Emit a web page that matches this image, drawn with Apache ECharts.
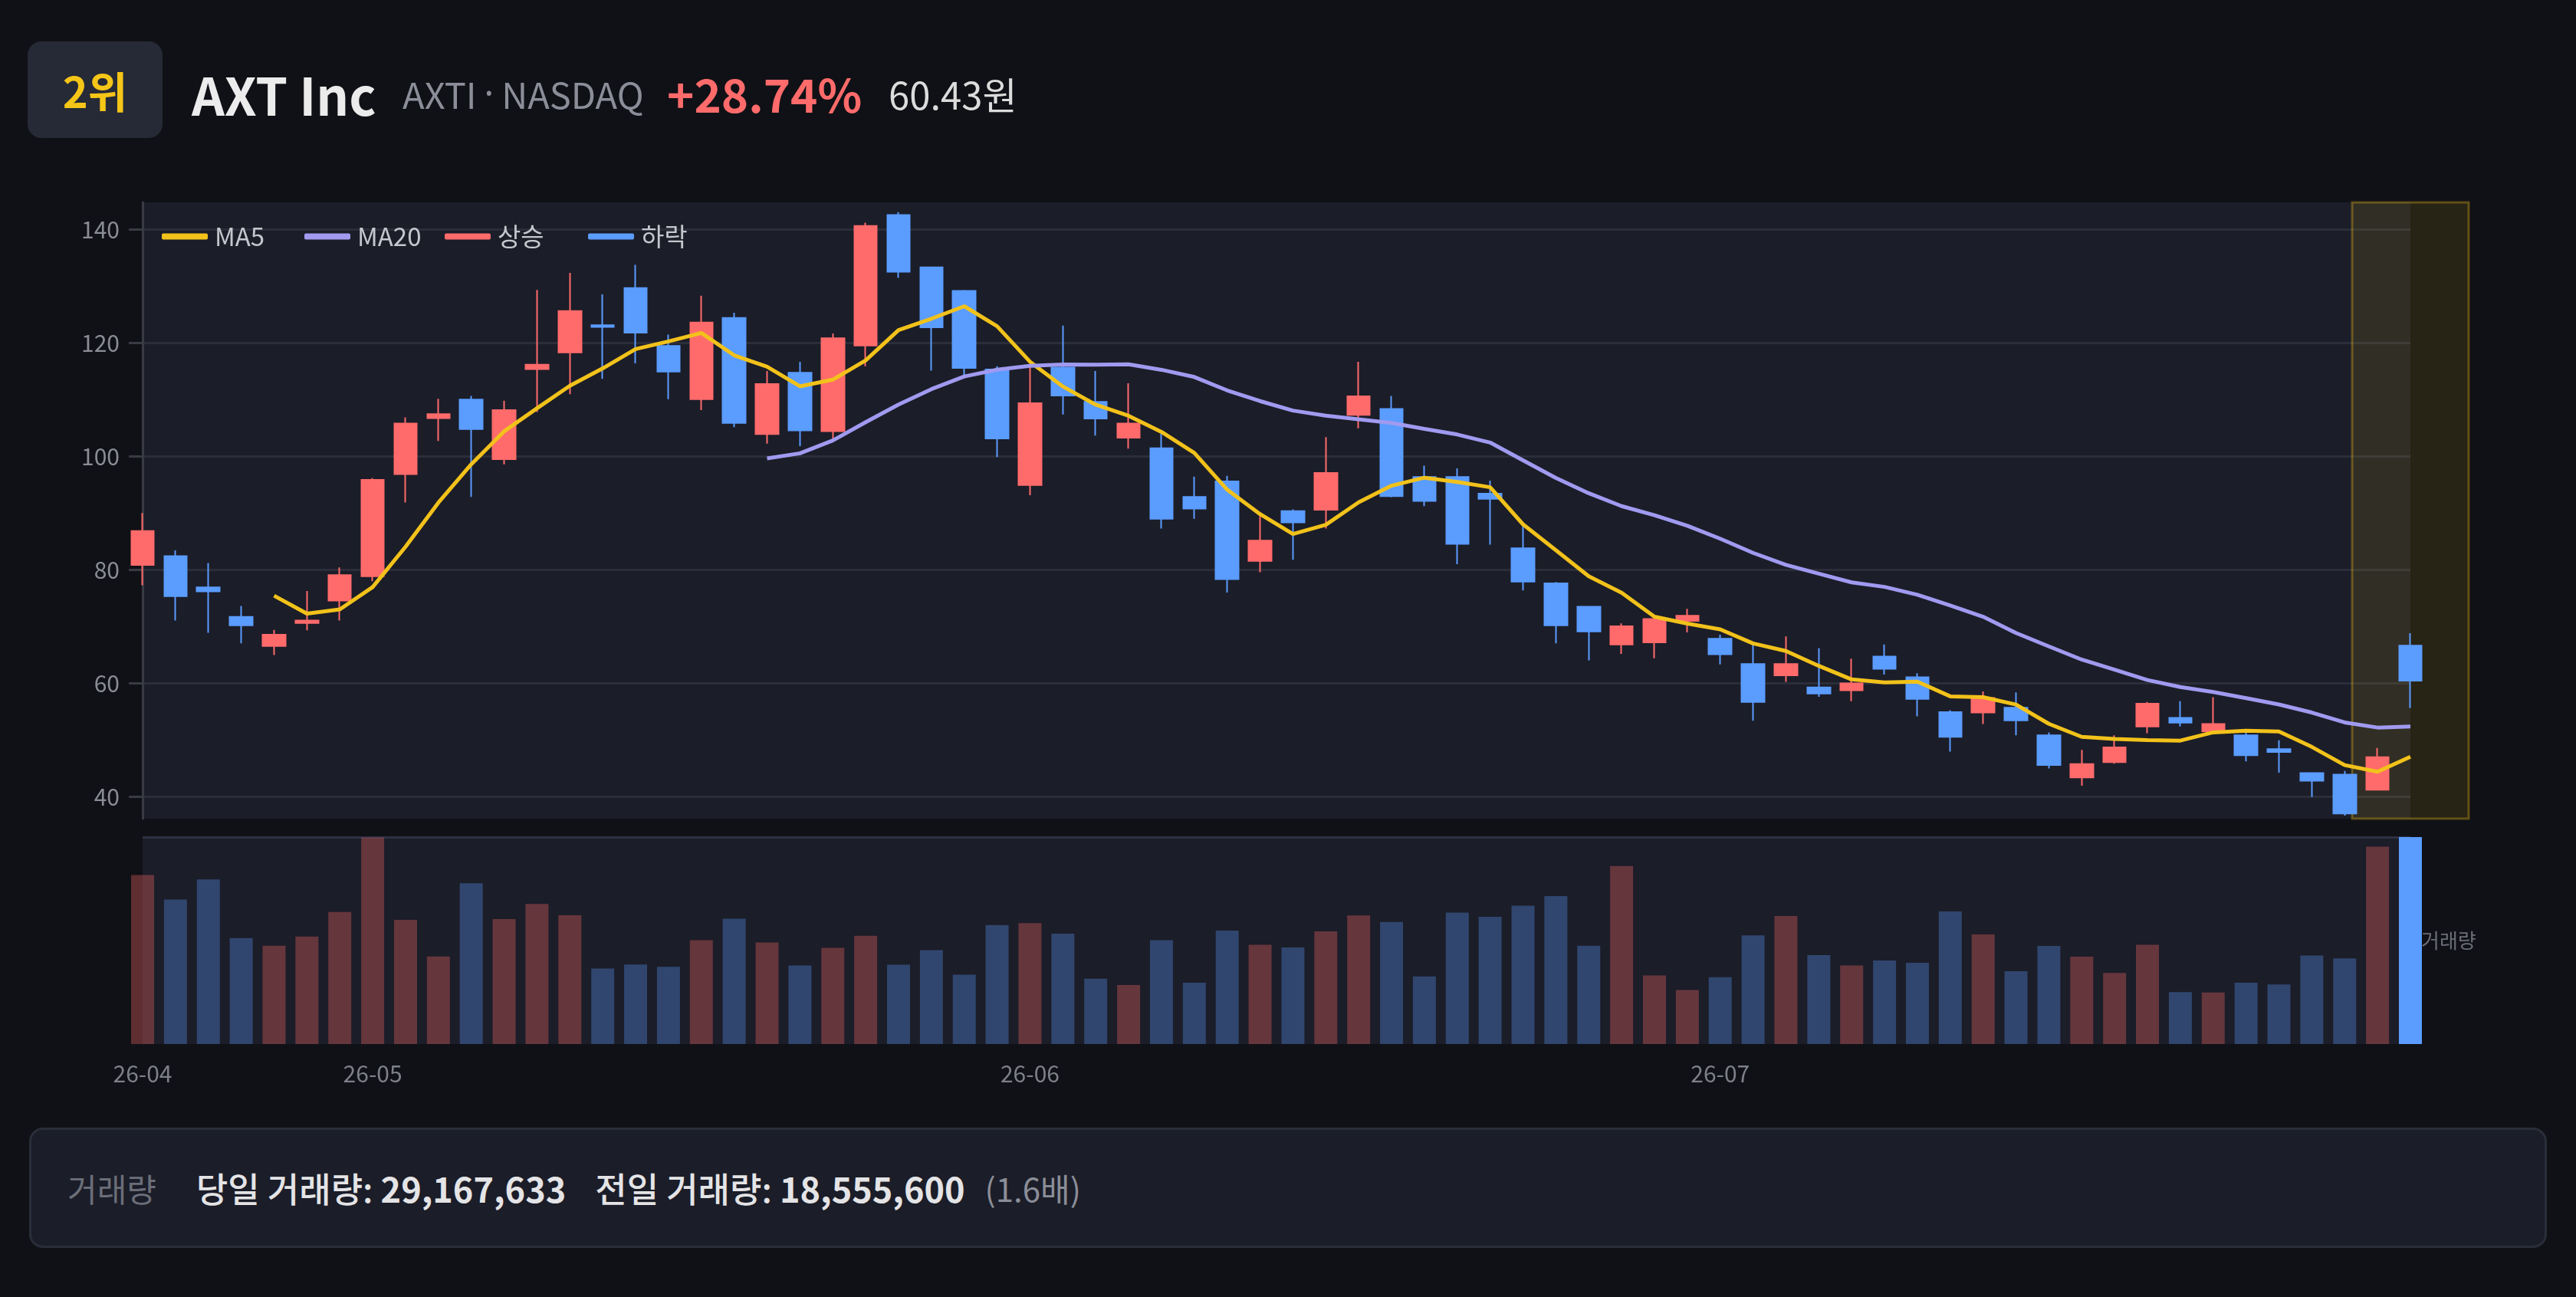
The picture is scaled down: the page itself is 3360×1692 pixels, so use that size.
<!DOCTYPE html>
<html>
<head>
<meta charset="utf-8">
<script src="https://cdn.jsdelivr.net/npm/echarts/dist/echarts.min.js"></script>
<style>
    html, body {margin: 0; padding: 0; background: #101116; width: 3360px; height: 1692px; overflow: hidden;
        font-family: "Noto Sans CJK KR", "Noto Sans", sans-serif;}
    #chart {position: absolute; left: 0; top: 0; width: 3360px; height: 1692px;}
    .row {position: absolute; top: 58px; height: 126px; display: flex; align-items: center; line-height: 1; white-space: nowrap;}
    .badge {position: absolute; left: 36px; top: 54px; width: 176px; height: 126px; background: #262a36; border-radius: 18px;
        display: flex; align-items: center; justify-content: center; color: #f5c518; font-weight: 700; font-size: 56px; line-height: 1;}
    .footer {position: absolute; left: 38px; top: 1471px; width: 3278px; height: 151px; background: #1b1d28;
        border: 3px solid #2a2e3a; border-radius: 18px; display: flex; align-items: center; line-height: 1; white-space: nowrap;}
    .dot {font-family: "Noto Sans", sans-serif; margin: 0 10px;}
</style>
</head>
<body>
<div id="chart"></div>

<div class="badge">2위</div>
<div class="row" style="left: 250px; font-size: 67px; font-weight: 700; color: #ececec;">AXT Inc</div>
<div class="row" style="left: 525px; font-size: 47px; color: #8b8e98;">AXTI<span class="dot">·</span>NASDAQ</div>
<div class="row" style="left: 870px; font-size: 60px; font-weight: 700; color: #ff6b6b;">+28.74%</div>
<div class="row" style="left: 1159px; font-size: 49px; color: #dcdcdc;">60.43원</div>

<div class="footer">
    <span style="margin-left: 47px; font-size: 42px; color: #6b6e78;">거래량</span>
    <span style="margin-left: 52px; font-size: 45px; font-weight: 500; color: #e4e4e6;">당일 거래량: <b style="font-weight: 700;">29,167,633</b></span>
    <span style="margin-left: 38px; font-size: 45px; font-weight: 500; color: #e4e4e6;">전일 거래량: <b style="font-weight: 700;">18,555,600</b></span>
    <span style="margin-left: 26px; font-size: 42px; color: #8b8e98;">(1.6배)</span>
</div>

<script>
// 거래일 (2026-04-22 ~ 2026-07-31)
const dates = [
    '2026-04-22', '2026-04-23', '2026-04-24', '2026-04-27', '2026-04-28', '2026-04-29', '2026-04-30',
    '2026-05-01', '2026-05-04', '2026-05-05', '2026-05-06', '2026-05-07', '2026-05-08', '2026-05-11',
    '2026-05-12', '2026-05-13', '2026-05-14', '2026-05-15', '2026-05-18', '2026-05-19', '2026-05-20',
    '2026-05-21', '2026-05-22', '2026-05-26', '2026-05-27', '2026-05-28', '2026-05-29',
    '2026-06-01', '2026-06-02', '2026-06-03', '2026-06-04', '2026-06-05', '2026-06-08', '2026-06-09',
    '2026-06-10', '2026-06-11', '2026-06-12', '2026-06-15', '2026-06-16', '2026-06-17', '2026-06-18',
    '2026-06-22', '2026-06-23', '2026-06-24', '2026-06-25', '2026-06-26', '2026-06-29', '2026-06-30',
    '2026-07-01', '2026-07-02', '2026-07-06', '2026-07-07', '2026-07-08', '2026-07-09', '2026-07-10',
    '2026-07-13', '2026-07-14', '2026-07-15', '2026-07-16', '2026-07-17', '2026-07-20', '2026-07-21',
    '2026-07-22', '2026-07-23', '2026-07-24', '2026-07-27', '2026-07-28', '2026-07-29', '2026-07-30',
    '2026-07-31'
]

const opens = [
    80.84, 82.42, 76.91, 71.69, 66.54, 70.61, 74.55, 78.84, 96.87, 106.74,
    110.03, 99.51, 115.39, 118.33, 123.12, 129.70, 119.47, 110.10, 124.41, 103.95,
    114.75, 104.45, 119.54, 142.58, 133.35, 129.20, 115.32, 94.94, 115.68, 109.60,
    103.30, 101.44, 92.86, 95.58, 81.56, 90.36, 90.57, 107.31, 108.38, 96.37,
    96.37, 93.43, 83.78, 77.62, 73.48, 66.82, 67.18, 70.97, 67.83, 63.39,
    61.39, 59.24, 58.74, 64.68, 61.03, 54.88, 54.81, 55.67, 50.80, 43.36,
    46.08, 52.37, 53.88, 51.52, 50.80, 48.37, 44.15, 43.86, 41.22, 66.61
]
const closes = [
    86.85, 75.34, 76.20, 70.19, 68.54, 71.04, 79.06, 95.87, 105.81, 107.45,
    104.81, 108.17, 116.18, 125.62, 122.83, 121.83, 114.96, 123.62, 105.88, 112.75,
    104.59, 120.83, 140.64, 132.56, 122.76, 115.61, 103.16, 109.38, 110.74, 106.67,
    105.81, 89.00, 90.79, 78.34, 85.14, 88.35, 97.08, 110.60, 93.00, 92.15,
    84.56, 92.50, 77.91, 70.19, 69.11, 70.04, 71.33, 71.90, 65.11, 56.67,
    63.39, 58.17, 59.96, 62.53, 57.24, 50.52, 57.38, 53.45, 45.58, 45.72,
    48.66, 56.38, 53.02, 52.80, 47.30, 47.87, 42.79, 37.00, 46.94, 60.43
]
const lows = [
    77.27, 71.04, 68.90, 67.04, 64.96, 69.33, 71.04, 77.98, 91.86, 102.73,
    92.86, 98.58, 107.81, 110.96, 113.68, 116.40, 110.10, 108.17, 105.16, 102.23,
    101.80, 103.02, 115.89, 131.49, 115.11, 114.32, 99.87, 93.15, 107.38, 103.66,
    101.37, 87.28, 89.00, 75.98, 79.56, 81.77, 87.28, 104.95, 92.79, 91.22,
    80.99, 84.42, 76.34, 67.04, 64.03, 65.18, 64.39, 68.97, 63.32, 53.38,
    60.24, 57.60, 56.81, 61.53, 54.16, 47.94, 52.80, 50.80, 44.94, 41.93,
    45.79, 51.16, 52.37, 51.37, 46.22, 44.22, 39.93, 36.64, 41.07, 55.59
]
const highs = [
    90.00, 83.42, 81.20, 73.62, 69.40, 76.27, 80.41, 96.15, 106.88, 110.17,
    110.67, 109.81, 129.34, 132.35, 128.56, 133.78, 121.47, 128.34, 125.34, 115.04,
    116.68, 121.69, 141.22, 143.08, 133.49, 129.34, 115.89, 115.89, 123.05, 115.04,
    112.89, 104.02, 96.44, 96.58, 90.14, 90.64, 103.38, 116.68, 110.67, 98.37,
    97.87, 95.72, 88.00, 77.84, 73.55, 70.54, 71.55, 73.12, 68.54, 66.90,
    68.25, 66.18, 64.32, 66.82, 61.75, 55.24, 58.53, 58.39, 51.30, 48.23,
    50.80, 56.67, 56.81, 57.52, 51.30, 49.94, 44.22, 44.50, 48.58, 68.83
]
const volumes = [
    23830000, 20360000, 23190000, 14930000, 13850000, 15140000, 18610000, 29110000, 17500000, 12340000,
    22660000, 17620000, 19750000, 18140000, 10650000, 11200000, 10880000, 14640000, 17650000, 14320000,
    11080000, 13560000, 15250000, 11170000, 13240000, 9770000, 16770000, 17030000, 15550000, 9220000,
    8310000, 14640000, 8630000, 15980000, 14000000, 13620000, 15870000, 18110000, 17210000, 9540000,
    18520000, 17940000, 19510000, 20850000, 13850000, 25080000, 9680000, 7610000, 9420000, 15310000,
    18050000, 12540000, 11080000, 11780000, 11460000, 18700000, 15460000, 10270000, 13830000, 12310000,
    10030000, 14000000, 7320000, 7260000, 8630000, 8400000, 12480000, 12080000, 27830000, 29167633
]

// 범례 항목
const legendNames = ['MA5', 'MA20', '상승', '하락']
const legendLefts = [206, 392, 575, 762]

const UP = '#ff6b6b'
const DOWN = '#5b9cff'

// 이동평균
const calcMA = (n) => {
    return closes.map((c, i) => {
        if (i < n - 1) return '-'
        let sum = 0
        for (let j = i - n + 1; j <= i; j++) sum += closes[j]
        return +(sum / n).toFixed(2)
    })
}

const chart = echarts.init(document.getElementById('chart'))
const volMax = Math.max(...volumes)
const last = dates.length - 1

const option = {
    backgroundColor: 'transparent',
    animation: false,
    textStyle: {fontFamily: '"Noto Sans CJK KR", "Noto Sans", sans-serif'},
    // 항목 간격이 일정하도록 범례를 하나씩 배치
    legend: legendNames.map((name, i) => ({
        left: legendLefts[i],
        top: 287,
        icon: 'roundRect',
        itemWidth: 60,
        itemHeight: 8,
        data: [name],
        textStyle: {color: '#c5c7ce', fontSize: 33, padding: [0, 0, 0, 4]},
    })),
    grid: [
        {left: 186, top: 264, width: 2958, height: 804, show: true, backgroundColor: '#1b1d28', borderWidth: 0},
        {left: 186, top: 1092, width: 2958, height: 270, show: true, backgroundColor: '#1b1d28', borderWidth: 0},
    ],
    xAxis: [
        {
            type: 'category', gridIndex: 0, data: dates, boundaryGap: false,
            axisLine: {show: false}, axisTick: {show: false}, axisLabel: {show: false}, splitLine: {show: false},
        },
        {
            type: 'category', gridIndex: 1, data: dates, boundaryGap: false,
            axisLine: {show: false}, axisTick: {show: false}, splitLine: {show: false},
            axisLabel: {
                color: '#7d8089',
                fontSize: 30,
                margin: 24,
                interval: (idx, val) => idx === 0 || dates[idx - 1].slice(0, 7) !== val.slice(0, 7),
                formatter: (val) => val.slice(2, 7),
            },
        },
    ],
    yAxis: [
        {
            type: 'value', gridIndex: 0, min: 36.1, max: 144.8, scale: true,
            axisLine: {show: true, lineStyle: {color: '#393b44', width: 3}},
            axisTick: {show: true, length: 18, lineStyle: {color: '#393b44', width: 3}},
            axisLabel: {color: '#8a8d96', fontSize: 30, margin: 30, showMinLabel: false, showMaxLabel: false},
            splitLine: {show: true, showMinLine: false, showMaxLine: false, lineStyle: {color: '#2b2e3a', width: 3}},
        },
        {
            type: 'value', gridIndex: 1, position: 'right', min: 0, max: volMax, interval: volMax,
            name: '거래량', nameLocation: 'middle', nameRotate: 0, nameGap: 14,
            nameTextStyle: {color: '#6b6e78', fontSize: 26},
            axisLine: {show: false}, axisTick: {show: false}, axisLabel: {show: false},
            splitLine: {show: true, showMinLine: false, lineStyle: {color: '#2c3142', width: 3}},
        },
    ],
    series: [
        {
            name: '캔들',
            type: 'candlestick',
            xAxisIndex: 0, yAxisIndex: 0,
            barWidth: 30,
            data: dates.map((d, i) => [opens[i], closes[i], lows[i], highs[i]]),
            itemStyle: {color: UP, color0: DOWN, borderColor: UP, borderColor0: DOWN, borderWidth: 2},
            z: 3,
        },
        {
            name: 'MA5', type: 'line', data: calcMA(5), showSymbol: false, symbol: 'none', z: 4,
            color: '#f2c21b', lineStyle: {width: 5, color: '#f2c21b'},
        },
        {
            name: 'MA20', type: 'line', data: calcMA(20), showSymbol: false, symbol: 'none', z: 4,
            color: '#a09af0', lineStyle: {width: 5, color: '#a09af0'},
        },
        {name: '상승', type: 'line', data: [], color: UP},
        {name: '하락', type: 'line', data: [], color: DOWN},
        {
            name: '거래량',
            type: 'bar',
            xAxisIndex: 1, yAxisIndex: 1,
            barWidth: 30,
            data: volumes.map((v, i) => {
                const up = closes[i] >= opens[i]
                if (i === last) return {value: v, itemStyle: {color: up ? UP : DOWN}}
                return {value: v, itemStyle: {color: up ? UP : DOWN, opacity: 0.33}}
            }),
        },
    ],
}
chart.setOption(option)

// 최근 거래일 강조 영역
const lastX = chart.convertToPixel({xAxisIndex: 0}, dates[last])
chart.setOption({
    graphic: [{
        type: 'rect',
        z: 1,
        silent: true,
        shape: {x: lastX - 76, y: 264, width: 152, height: 804},
        style: {fill: 'rgba(245,197,24,0.1)', stroke: 'rgba(245,197,24,0.32)', lineWidth: 3},
    }]
})
</script>
</body>
</html>
